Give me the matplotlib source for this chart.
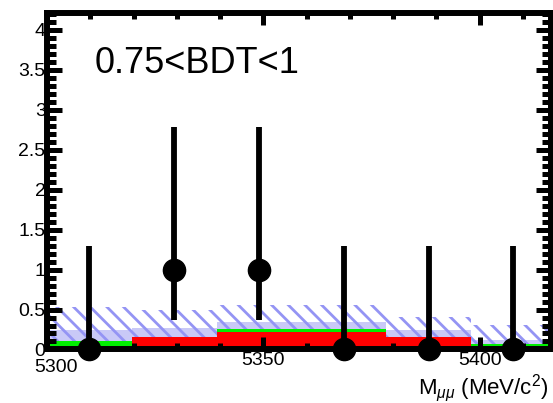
import matplotlib
matplotlib.use("Agg")
import matplotlib.pyplot as plt
import numpy as np
from matplotlib.ticker import MultipleLocator

plt.rcParams["font.family"] = ["Liberation Sans", "DejaVu Sans"]
plt.rcParams["mathtext.fontset"] = "custom"
plt.rcParams["mathtext.rm"] = "Liberation Sans"
plt.rcParams["mathtext.it"] = "Liberation Sans:italic"
plt.rcParams["hatch.linewidth"] = 2.0

# Dimuon mass bins (MeV/c^2)
bin_edges = [5300.0, 5319.6, 5339.2, 5358.8, 5378.4, 5398.0, 5417.6]
bin_centers = [5309.8, 5329.4, 5349.0, 5368.6, 5388.2, 5407.8]
x_ticks = [5300, 5350, 5400]
x_tick_labels = ["5300", "5350", "5400"]
y_ticks = [0, 0.5, 1, 1.5, 2, 2.5, 3, 3.5, 4]
y_tick_labels = ["0", "0.5", "1", "1.5", "2", "2.5", "3", "3.5", "4"]

# Observed events with asymmetric errors
observed = [0, 1, 1, 0, 0, 0]
err_low = [0.0, 0.63, 0.63, 0.0, 0.0, 0.0]
err_high = [1.29, 1.78, 1.78, 1.29, 1.29, 1.29]

# Expected background components (stacked)
bkg_red = [0.0, 0.15, 0.22, 0.22, 0.15, 0.0]
bkg_green = [0.10, 0.0, 0.04, 0.04, 0.0, 0.07]

# Expected-background uncertainty band
band_low = [0.24, 0.27, 0.34, 0.34, 0.24, 0.12]
band_high = [0.53, 0.49, 0.56, 0.56, 0.41, 0.31]

fig = plt.figure(figsize=(5.53, 4.03), dpi=100)
ax = fig.add_axes([0.0850, 0.1328, 0.9114, 0.8350])

ax.stairs(band_low, bin_edges, baseline=0, fill=True, color="#c9c9f7",
          linewidth=0, zorder=1)
ax.stairs(band_high, bin_edges, baseline=0, fill=True, facecolor="none",
          edgecolor="#9494f4", hatch="\\\\", linewidth=0, zorder=1.2)

red = np.array(bkg_red)
total = red + np.array(bkg_green)
ax.stairs(red, bin_edges, baseline=0, fill=True, color="#ff0000",
          linewidth=0, zorder=1.5)
ax.stairs(total, bin_edges, baseline=red, fill=True, color="#00ee00",
          linewidth=0, zorder=1.5)

ax.errorbar(bin_centers, observed, yerr=[err_low, err_high], fmt="o",
            color="black", markersize=16, elinewidth=4.2, capsize=0,
            zorder=5, clip_on=False)

ax.set_xlim(5300, 5416.5)
ax.set_ylim(0, 4.21)

# The first mass label sits right of its tick, below the y "0" label
ax.set_xticks(x_ticks, [""] + x_tick_labels[1:])
ax.annotate(x_tick_labels[0], xy=(x_ticks[0], 0),
            xycoords=("data", "axes fraction"), xytext=(6.5, -6.5),
            textcoords="offset points", ha="center", va="top", fontsize=14)
ax.xaxis.set_minor_locator(MultipleLocator(10))
ax.set_yticks(y_ticks, y_tick_labels)
ax.yaxis.set_minor_locator(MultipleLocator(0.1))

for s in ax.spines.values():
    s.set_linewidth(4.3)
    s.set_zorder(3)

ax.tick_params(axis="both", which="both", direction="in", top=True,
               right=True, width=3.6, labelsize=14, colors="black")
ax.tick_params(axis="y", which="major", length=11, pad=1)
ax.tick_params(axis="y", which="minor", length=6.5)
ax.tick_params(axis="x", which="major", length=8.5, pad=2)
ax.tick_params(axis="x", which="minor", length=4.5)

ax.text(0.095, 0.822, "0.75<BDT<1", transform=ax.transAxes, fontsize=26,
        ha="left", va="baseline")

fig.text(418 / 553, 0.022, r"M$_{\mu\mu}$ (MeV/c$^{2}$)", fontsize=16,
         ha="left", va="baseline")

fig.savefig("out.png", dpi=100)
